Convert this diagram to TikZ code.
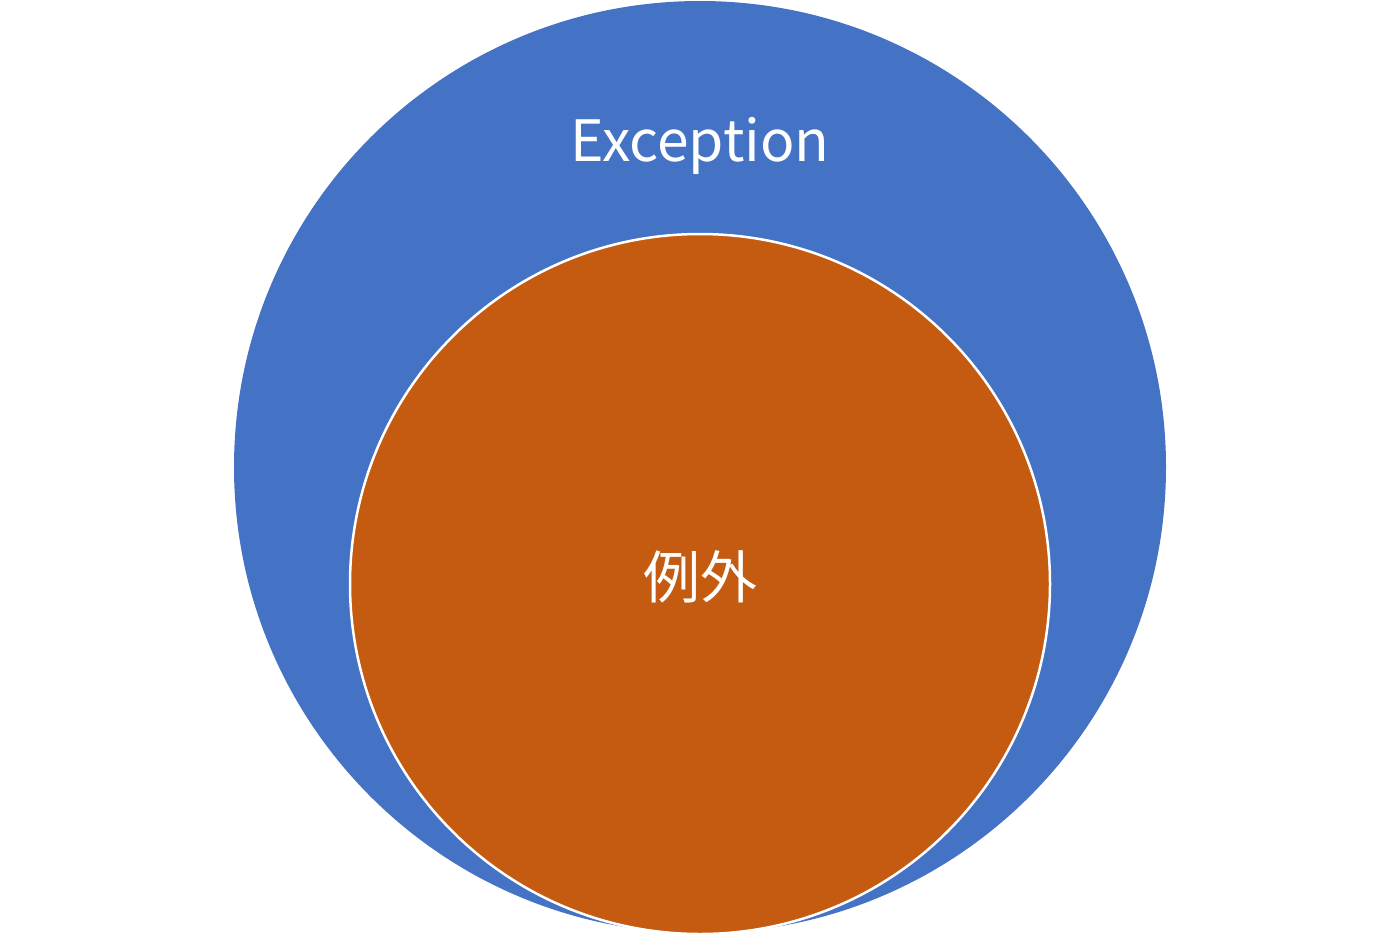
\documentclass[tikz,border=0pt]{standalone}
\usepackage{fontspec}
\setmainfont{Noto Sans CJK JP}
\definecolor{exblue}{HTML}{4472C4}
\definecolor{reiorange}{HTML}{C55A11}
\begin{document}
\begin{tikzpicture}[x=1pt,y=-1pt,
  outer/.style={circle,fill=exblue,draw=none,minimum size=932pt,inner sep=0pt},
  inner/.style={circle,fill=reiorange,draw=white,line width=2.5pt,minimum size=700pt,inner sep=0pt},
  lbl/.style={text=white,font=\fontsize{57}{60}\selectfont,inner sep=0pt}]
\useasboundingbox (0,0) rectangle (1400,935);
\node[outer] (exc) at (700,467) {};
\node[inner] (rei) at (700,584) {};
\node[lbl] (exclbl) at (700,146) {Exception};
\node[lbl] (reilbl) at (700,577) {例外};
\end{tikzpicture}
\end{document}
